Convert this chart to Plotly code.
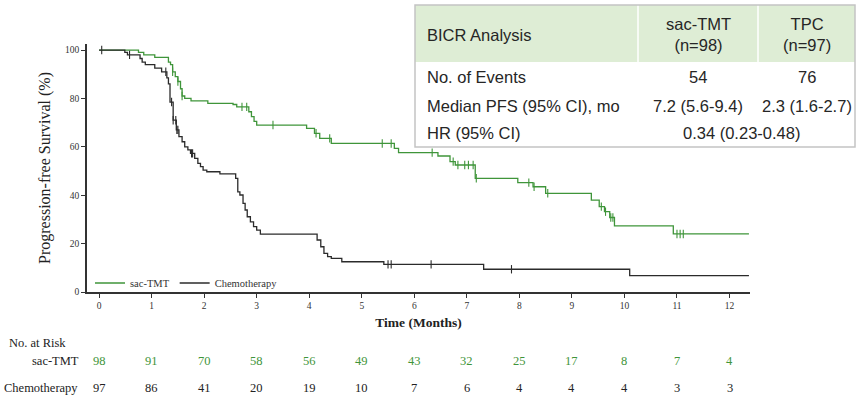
import numpy as np
import plotly.graph_objects as go

# ---------------- data ----------------
sac_t = [0, 0.75, 0.85, 1.06, 1.32, 1.36, 1.40, 1.45, 1.50, 1.55, 1.58, 1.63, 1.75, 2.07,
         2.55, 2.62, 2.85, 2.90, 2.95, 3.00, 3.95, 4.10, 4.20, 4.42, 5.62, 5.70, 6.45,
         6.68, 6.78, 7.16, 7.97, 8.26, 8.50, 9.37, 9.52, 9.62, 9.72, 9.81, 10.93, 12.37]
sac_s = [100, 99, 98, 97, 95, 94, 91, 89, 87, 84, 81, 80, 79, 78,
         77.5, 76.5, 74.5, 72.5, 70.5, 69, 67.6, 65.6, 63.5, 61.4, 59.4, 57.6, 56.2,
         53.9, 52.5, 47, 45.2, 43.5, 40.8, 38, 35.3, 33.2, 30.8, 27.3, 24, 24]
sac_cens = [1.40, 1.50, 1.58, 2.72, 2.81, 3.31, 4.13, 4.39, 5.39, 5.56, 6.34, 6.74, 6.83,
            6.96, 7.03, 7.12, 7.18, 8.18, 8.28, 8.54, 9.56, 9.64, 9.74, 9.78,
            11.00, 11.06, 11.12]

chemo_t = [0, 0.49, 0.54, 0.78, 0.82, 0.88, 1.06, 1.19, 1.29, 1.32, 1.35, 1.41, 1.47,
           1.52, 1.58, 1.63, 1.69, 1.74, 1.82, 1.88, 1.93, 1.98, 2.05, 2.30, 2.60, 2.64,
           2.68, 2.74, 2.78, 2.82, 2.88, 2.94, 3.00, 3.07, 4.15, 4.22, 4.28, 4.35, 4.42,
           4.62, 5.42, 7.32, 10.10, 12.37]
chemo_s = [100, 99, 98, 96.5, 95, 94, 92.5, 91, 88.5, 86, 78.5, 71, 67,
           64.2, 62.1, 60, 58.7, 57.3, 55.2, 53.2, 51.8, 50.4, 49.7, 48.8, 47, 41.4,
           40.1, 36.6, 33.9, 31.1, 29, 27, 25.6, 23.9, 21.5, 18.7, 16, 14.6, 13.9,
           12.5, 11.4, 9.4, 6.8, 6.8]
chemo_cens = [0.05, 0.58, 1.27, 1.38, 1.41, 1.46, 1.48, 1.50, 1.76, 1.78,
              5.50, 5.56, 6.32, 7.85]

risk_times = list(range(13))
risk_sac = [98, 91, 70, 58, 56, 49, 43, 32, 25, 17, 8, 7, 4]
risk_chemo = [97, 86, 41, 20, 19, 10, 7, 6, 4, 4, 4, 3, 3]

x_ticks = list(range(13))
y_ticks = [0, 20, 40, 60, 80, 100]

table_header = ["BICR Analysis", "sac-TMT<br>(n=98)", "TPC<br>(n=97)"]
table_rows = [
    ["No. of Events", "54", "76"],
    ["Median PFS (95% CI), mo", "7.2 (5.6-9.4)", "2.3 (1.6-2.7)"],
]
hr_row = ["HR (95% CI)", "0.34 (0.23-0.48)"]

GREEN = "#3f953a"
BLACK = "#2b2b2b"
SERIF = "Liberation Serif, Times New Roman, serif"
SANS = "Liberation Sans, Arial, sans-serif"

# ---------------- figure ----------------
W, H = 865, 403
L, R, T, B = 87, 750, 44, 292  # plot area in pixels


def px(xp):
    return (xp - L) / (R - L)


def py(yp):
    return (B - yp) / (B - T)


def step_at(ts, ss, t):
    i = np.searchsorted(np.asarray(ts), t, side="right") - 1
    return float(np.asarray(ss)[i])


fig = go.Figure()
fig.add_trace(go.Scatter(x=sac_t, y=sac_s, mode="lines", line_shape="hv",
                         line=dict(color=GREEN, width=1.3), name="sac-TMT"))
fig.add_trace(go.Scatter(x=chemo_t, y=chemo_s, mode="lines", line_shape="hv",
                         line=dict(color=BLACK, width=1.3), name="Chemotherapy"))
fig.add_trace(go.Scatter(x=sac_cens, y=[step_at(sac_t, sac_s, t) for t in sac_cens],
                         mode="markers", showlegend=False,
                         marker=dict(symbol="line-ns", size=6,
                                     line=dict(color=GREEN, width=1.1))))
fig.add_trace(go.Scatter(x=chemo_cens, y=[step_at(chemo_t, chemo_s, t) for t in chemo_cens],
                         mode="markers", showlegend=False,
                         marker=dict(symbol="line-ns", size=6,
                                     line=dict(color=BLACK, width=1.1))))

fig.update_layout(
    width=W, height=H,
    margin=dict(l=L, r=W - R, t=T, b=H - B),
    paper_bgcolor="white", plot_bgcolor="white",
    showlegend=True,
    legend=dict(orientation="h", x=px(90), y=py(283), xanchor="left", yanchor="middle",
                font=dict(family=SERIF, size=10.5, color="#333"),
                bgcolor="rgba(0,0,0,0)", itemwidth=30),
    xaxis=dict(range=[-0.23, 12.39], tickvals=x_ticks, ticks="outside", ticklen=4,
               tickwidth=1.2, tickcolor="#333", showline=True, linecolor="#333",
               linewidth=1.5, showgrid=False, zeroline=False,
               tickfont=dict(family=SERIF, size=9.5, color="#333"),
               title=dict(text="<b>Time (Months)</b>", standoff=7,
                          font=dict(family=SERIF, size=13.5, color="#222"))),
    yaxis=dict(range=[0, 102.5], tickvals=y_ticks, ticks="outside", ticklen=4,
               tickwidth=1.2, tickcolor="#333", showline=True, linecolor="#333",
               linewidth=1.5, showgrid=False, zeroline=False,
               tickfont=dict(family=SERIF, size=9.5, color="#333"),
               title=dict(text="Progression-free Survival (%)", standoff=10,
                          font=dict(family=SERIF, size=16, color="#222"))),
)

# ---------------- number at risk ----------------
ann = []
ann.append(dict(text="No. at Risk", xref="paper", yref="paper", x=px(7), y=py(343),
                xanchor="left", yanchor="middle", showarrow=False,
                font=dict(family=SERIF, size=12.5, color="#222")))
ann.append(dict(text="sac-TMT", xref="paper", yref="paper", x=px(81), y=py(361),
                xanchor="right", yanchor="middle", showarrow=False,
                font=dict(family=SERIF, size=12.5, color="#222")))
ann.append(dict(text="Chemotherapy", xref="paper", yref="paper", x=px(80), y=py(388),
                xanchor="right", yanchor="middle", showarrow=False,
                font=dict(family=SERIF, size=12.5, color="#222")))
for t, n in zip(risk_times, risk_sac):
    ann.append(dict(text=str(n), xref="x", yref="paper", x=t, y=py(361),
                    xanchor="center", yanchor="middle", showarrow=False,
                    font=dict(family=SERIF, size=12.5, color=GREEN)))
for t, n in zip(risk_times, risk_chemo):
    ann.append(dict(text=str(n), xref="x", yref="paper", x=t, y=py(388),
                    xanchor="center", yanchor="middle", showarrow=False,
                    font=dict(family=SERIF, size=12.5, color="#222")))

# ---------------- summary table ----------------
tx0, tx1, tx2, tx3 = 415, 638, 758, 855
ty0, ty1, ty2 = 5, 62, 147
shapes = [
    dict(type="rect", xref="paper", yref="paper", x0=px(tx0), x1=px(tx3), y0=py(ty2), y1=py(ty0),
         fillcolor="white", line=dict(width=0), layer="above"),
    dict(type="rect", xref="paper", yref="paper", x0=px(tx0), x1=px(tx3), y0=py(ty1), y1=py(ty0),
         fillcolor="#deedd5", line=dict(width=0), layer="above"),
    dict(type="line", xref="paper", yref="paper", x0=px(tx1), x1=px(tx1), y0=py(ty1), y1=py(ty0),
         line=dict(color="white", width=1.5), layer="above"),
    dict(type="line", xref="paper", yref="paper", x0=px(tx2), x1=px(tx2), y0=py(ty1), y1=py(ty0),
         line=dict(color="white", width=1.5), layer="above"),
    dict(type="rect", xref="paper", yref="paper", x0=px(tx0), x1=px(tx3), y0=py(ty2), y1=py(ty0),
         fillcolor="rgba(0,0,0,0)", line=dict(color="#c4c4c4", width=1.5), layer="above"),
]

TF = dict(family=SANS, size=16.5, color="#262626")
col_c = [px(tx0 + 10), px((tx1 + tx2) / 2), px((tx2 + tx3) / 2)]
ann.append(dict(text=table_header[0], xref="paper", yref="paper", x=col_c[0], y=py(35),
                xanchor="left", yanchor="middle", showarrow=False, font=TF))
for j in (1, 2):
    ann.append(dict(text=table_header[j], xref="paper", yref="paper", x=col_c[j], y=py(34),
                    xanchor="center", yanchor="middle", showarrow=False, font=TF, align="center"))
row_y = [77, 106]
for yy, row in zip(row_y, table_rows):
    ann.append(dict(text=row[0], xref="paper", yref="paper", x=col_c[0], y=py(yy),
                    xanchor="left", yanchor="middle", showarrow=False, font=TF))
    for j in (1, 2):
        ann.append(dict(text=row[j], xref="paper", yref="paper", x=col_c[j], y=py(yy),
                        xanchor="center", yanchor="middle", showarrow=False, font=TF))
ann.append(dict(text=hr_row[0], xref="paper", yref="paper", x=col_c[0], y=py(133),
                xanchor="left", yanchor="middle", showarrow=False, font=TF))
ann.append(dict(text=hr_row[1], xref="paper", yref="paper", x=px(741), y=py(133),
                xanchor="center", yanchor="middle", showarrow=False, font=TF))

fig.update_layout(annotations=ann, shapes=shapes)
fig.write_html("out.html", config={"displayModeBar": False},
               post_script="document.body.style.margin='0px';document.body.style.overflow='hidden';")
